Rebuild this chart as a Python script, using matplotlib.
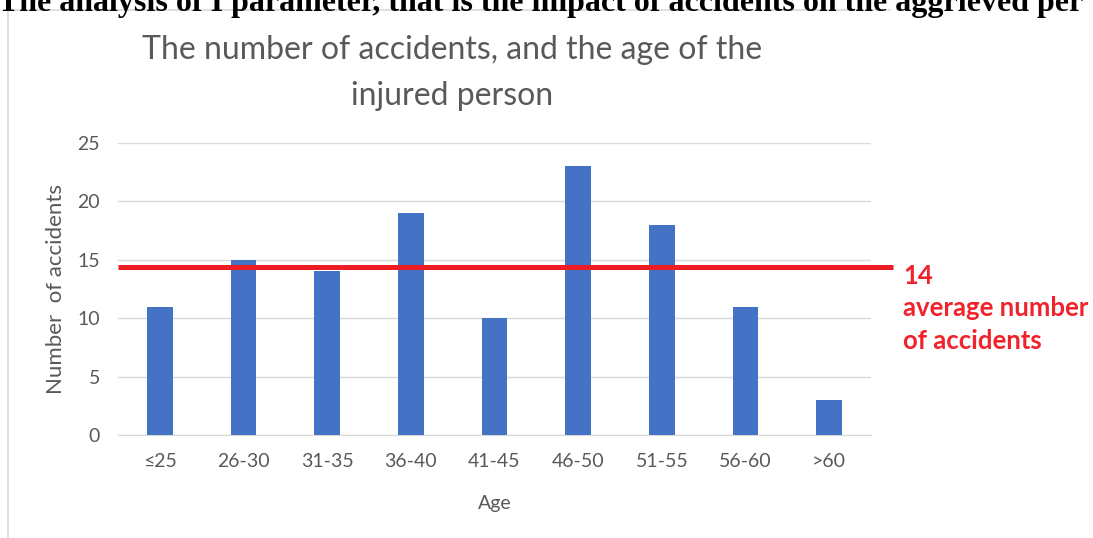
import matplotlib
matplotlib.use("Agg")
import matplotlib.pyplot as plt
from matplotlib.lines import Line2D

categories = ["≤25", "26-30", "31-35", "36-40", "41-45", "46-50", "51-55", "56-60", ">60"]
accidents = [11, 15, 14, 19, 10, 23, 18, 11, 3]
avg_line_value = 14.4
avg_label = "14"
avg_text_lines = ["average number", "of accidents"]
yticks = [0, 5, 10, 15, 20, 25]
title_lines = ["The number of accidents, and the age of the", "injured person"]
header = "The analysis of I parameter, that is the impact of accidents on the aggrieved per"

W, H = 1093, 538
fig = plt.figure(figsize=(W/100, H/100), dpi=100)
font = ["Lato", "DejaVu Sans"]
plt.rcParams['font.family'] = font

# Header (cut off at top, as in the source)
fig.text(-0.002, 1 - 11/H, header, fontsize=23, fontweight='bold',
         family=["Liberation Serif", "DejaVu Serif"], va='baseline', ha='left', color='black')

# Chart frame (left and top)
fig.add_artist(Line2D([8/W, 8/W], [0, 1 - 10/H], transform=fig.transFigure, color='#d9d9d9', lw=1.2))
fig.add_artist(Line2D([8/W, 890/W], [1 - 10/H, 1 - 10/H], transform=fig.transFigure, color='#d9d9d9', lw=1.2))

left, right = 118/W, 871/W
bottom, top = 1 - 435/H, 1 - 143/H
ax = fig.add_axes([left, bottom, right - left, top - bottom])

x = list(range(len(categories)))
ax.bar(x, accidents, width=0.31, color='#4472c4', zorder=3)
ax.set_xlim(-0.5, len(categories) - 0.5)
ax.set_ylim(0, 25)
ax.set_yticks(yticks)
ax.set_xticks(x)
ax.set_xticklabels(categories)
ax.grid(axis='y', color='#d9d9d9', lw=1, zorder=0)
for s in ['top', 'right', 'left']:
    ax.spines[s].set_visible(False)
ax.spines['bottom'].set_color('#d9d9d9')
ax.tick_params(axis='both', length=0, labelsize=14, colors='#595959')
ax.tick_params(axis='x', pad=13)
ax.tick_params(axis='y', pad=13)
ax.set_xlabel("Age", fontsize=14, color='#595959', labelpad=18)
ax.set_ylabel("Number  of accidents", fontsize=16, color='#595959', labelpad=8)

fig.text(452/W, 1 - 50/H, title_lines[0], fontsize=23, color='#595959', ha='center', va='center')
fig.text(452/W, 1 - 96/H, title_lines[1], fontsize=23, color='#595959', ha='center', va='center')

# Average line
ext = (893 - 871) / ((871 - 118) / 9)
ax.plot([-0.5, len(categories) - 0.5 + ext], [avg_line_value, avg_line_value],
        color='#ee1c25', lw=3.6, clip_on=False, zorder=4, solid_capstyle='butt')

red = '#f0222b'
fig.text(903/W, 1 - 276/H, avg_label, fontsize=18.5, fontweight='bold', color=red,
         ha='left', va='center')
fig.text(903/W, 1 - 308/H, avg_text_lines[0], fontsize=18.5, fontweight='bold', color=red,
         ha='left', va='center')
fig.text(903/W, 1 - 341/H, avg_text_lines[1], fontsize=18.5, fontweight='bold', color=red,
         ha='left', va='center')

fig.savefig("out.png", dpi=100)
